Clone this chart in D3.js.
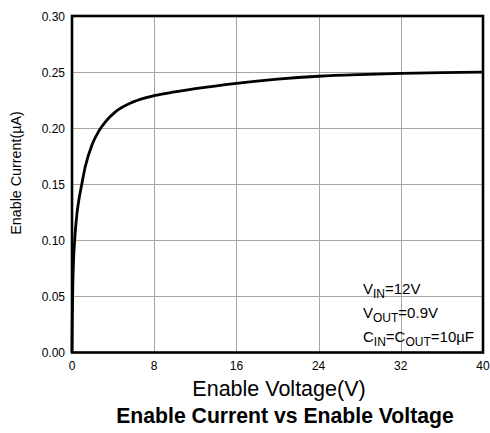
<!DOCTYPE html>
<html>
<head>
<meta charset="utf-8">
<script src="https://cdn.jsdelivr.net/npm/d3@7"></script>
<style>
  html, body { margin: 0; padding: 0; background: #fff; }
  svg { display: block; }
  text { font-family: "Liberation Sans", Arial, sans-serif; fill: #000; }
</style>
</head>
<body>
<svg id="chart" width="490" height="433"></svg>
<script>
// Enable voltage (V) and measured enable current (µA)
const voltage = [0, 0.02, 0.06, 0.13, 0.26, 0.49, 0.65, 0.91, 1.3, 1.96, 2.6, 3.27, 4.25, 5.9, 8, 10, 12, 16, 20, 24, 28, 32, 36, 40];
const current = [0, 0.022, 0.05, 0.077, 0.100, 0.1245, 0.135, 0.148, 0.166, 0.1855, 0.1972, 0.2058, 0.2147, 0.2232, 0.2290, 0.2323, 0.2352, 0.2400, 0.2437, 0.2463, 0.2478, 0.2488, 0.2495, 0.2500];

const xTicks = [0, 8, 16, 24, 32, 40];
const yTicks = [0.00, 0.05, 0.10, 0.15, 0.20, 0.25, 0.30];

const conditions = [
  [["V", ""], ["IN", "sub"], ["=12V", ""]],
  [["V", ""], ["OUT", "sub"], ["=0.9V", ""]],
  [["C", ""], ["IN", "sub"], ["=C", ""], ["OUT", "sub"], ["=10µF", ""]]
];

const svg = d3.select("#chart");
const plot = { left: 72, top: 16, right: 483, bottom: 352.5 };

const x = d3.scaleLinear().domain([0, 40]).range([plot.left, plot.right]);
const y = d3.scaleLinear().domain([0, 0.30]).range([plot.bottom, plot.top]);

// grid
const grid = svg.append("g").attr("stroke", "#a6a6a6").attr("stroke-width", 1);
grid.selectAll("line.v").data(xTicks.slice(1, -1)).join("line")
  .attr("x1", d => Math.round(x(d)) + 0.5).attr("x2", d => Math.round(x(d)) + 0.5)
  .attr("y1", plot.top).attr("y2", plot.bottom);
grid.selectAll("line.h").data(yTicks.slice(1, -1)).join("line")
  .attr("y1", d => Math.round(y(d)) + 0.5).attr("y2", d => Math.round(y(d)) + 0.5)
  .attr("x1", plot.left).attr("x2", plot.right);

// curve
const pts = voltage.map((v, i) => [v, current[i]]);
svg.append("path")
  .datum(pts)
  .attr("fill", "none")
  .attr("stroke", "#000")
  .attr("stroke-width", 2.8)
  .attr("stroke-linejoin", "round")
  .attr("d", d3.line().x(d => x(d[0])).y(d => y(d[1])).curve(d3.curveMonotoneX));

// frame
svg.append("rect")
  .attr("x", plot.left).attr("y", plot.top)
  .attr("width", plot.right - plot.left).attr("height", plot.bottom - plot.top)
  .attr("fill", "none").attr("stroke", "#000").attr("stroke-width", 2.6);

// axes labels
svg.append("g").selectAll("text").data(yTicks).join("text")
  .attr("x", 65).attr("y", d => y(d) + 4.5)
  .attr("text-anchor", "end").attr("font-size", 12)
  .text(d => d3.format(".2f")(d));

svg.append("g").selectAll("text").data(xTicks).join("text")
  .attr("x", d => x(d)).attr("y", 370)
  .attr("text-anchor", "middle").attr("font-size", 12)
  .text(d => d);

svg.append("text")
  .attr("transform", "translate(21,173) rotate(-90)")
  .attr("text-anchor", "middle").attr("font-size", 14.3)
  .text("Enable Current(µA)");

svg.append("text")
  .attr("x", 279).attr("y", 396)
  .attr("text-anchor", "middle").attr("font-size", 21.5)
  .text("Enable Voltage(V)");

svg.append("text")
  .attr("x", 285).attr("y", 423)
  .attr("text-anchor", "middle").attr("font-size", 21.2).attr("font-weight", "bold")
  .text("Enable Current vs Enable Voltage");

// test conditions
const cond = svg.append("g");
conditions.forEach((parts, i) => {
  const t = cond.append("text").attr("x", 363).attr("y", 294 + i * 24).attr("font-size", 15);
  parts.forEach(([s, kind], j) => {
    const prev = j > 0 ? parts[j - 1][1] : "";
    const ts = t.append("tspan").text(s);
    if (kind === "sub") ts.attr("font-size", 12).attr("dy", 4);
    else if (prev === "sub") ts.attr("dy", -4);
  });
});
</script>
</body>
</html>
